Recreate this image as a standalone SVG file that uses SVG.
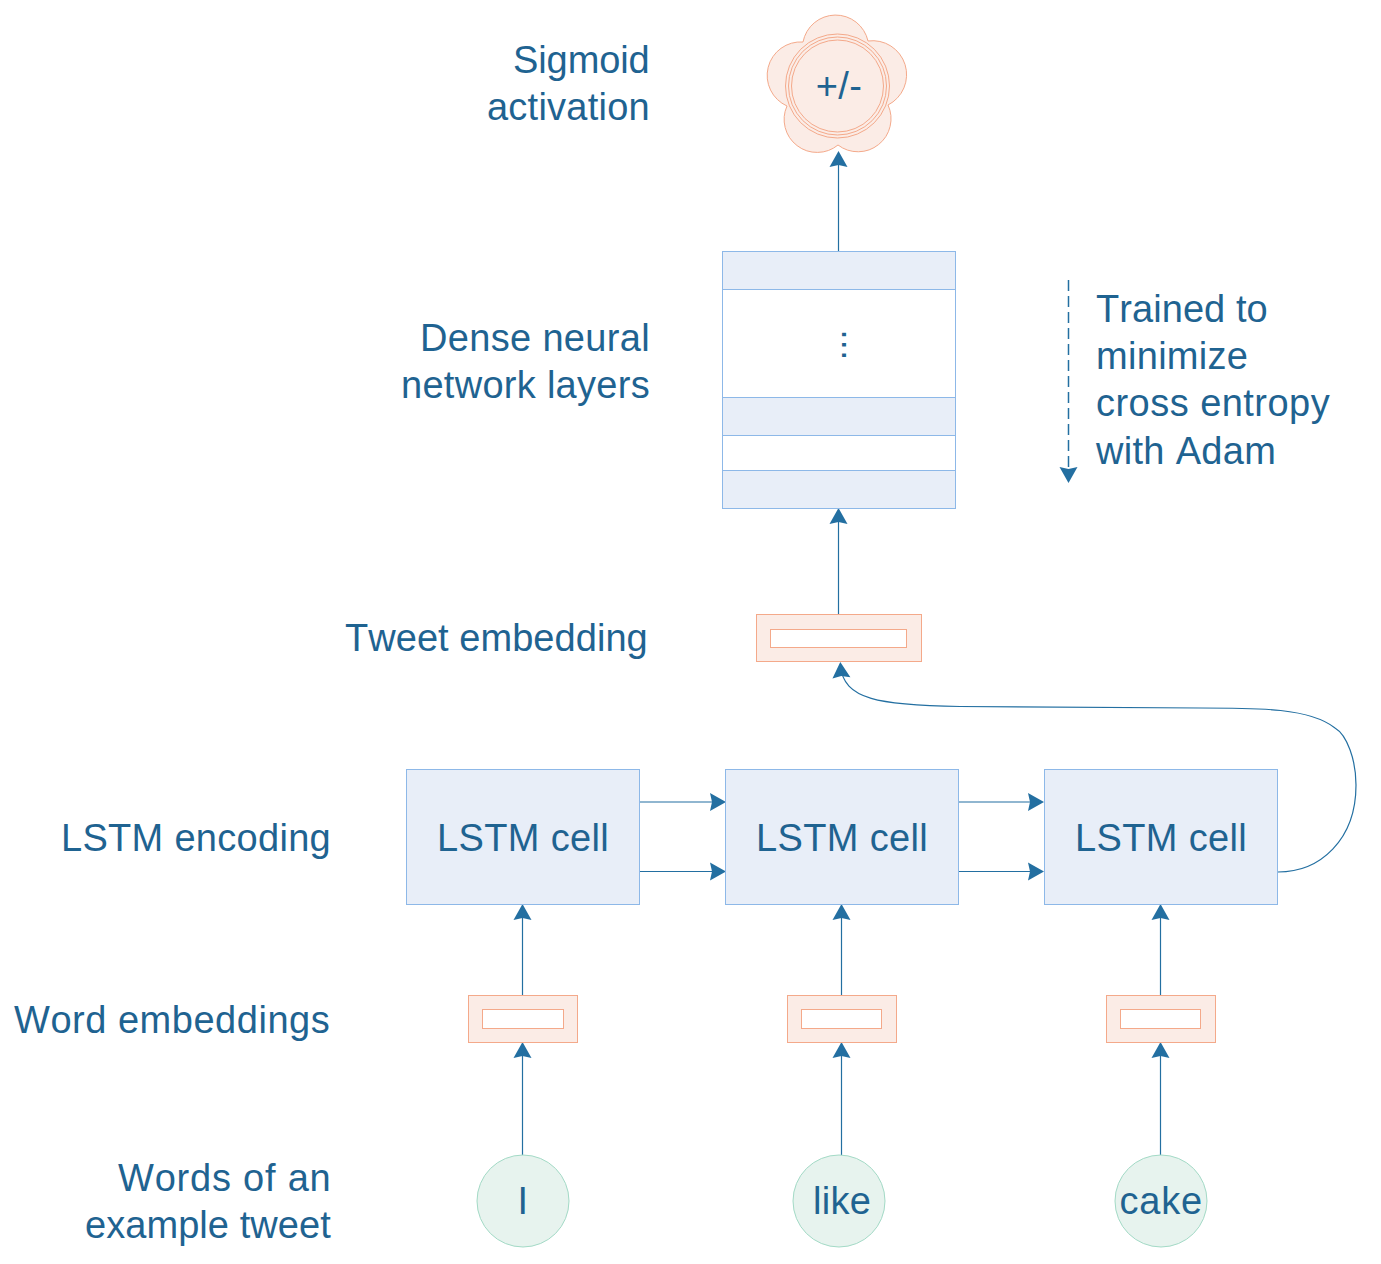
<svg xmlns="http://www.w3.org/2000/svg" width="1381" height="1264" viewBox="0 0 1381 1264">
<style>
text{font-family:"Liberation Sans",Arial,sans-serif;font-size:38px;fill:#1f6391;font-kerning:none;letter-spacing:.3px}
.e{text-anchor:end}.m{text-anchor:middle}
.b{fill:#e8eef8;stroke:#8db8e8;stroke-width:1}
.w{fill:#fff;stroke:#8db8e8;stroke-width:1}
.o{fill:#fbece6;stroke:#f4a98a;stroke-width:1}
.ow{fill:#fff;stroke:#f4a98a;stroke-width:1}
.g{fill:#e7f3ee;stroke:#a3dac6;stroke-width:1}
.r{fill:none;stroke:#f4a98a;stroke-width:1}
.c{fill:none;stroke:#236fa1;stroke-width:1.2;marker-end:url(#a)}
</style>
<defs><marker id="a" markerUnits="userSpaceOnUse" markerWidth="20" markerHeight="20" refX="15" refY="10" orient="auto"><path d="M2,1 L18,10 L2,19 L4,10 Z" fill="#236fa1"/></marker></defs>
<rect width="1381" height="1264" fill="#fff"/>
<g id="connectors">
<path class="c" d="M838.5,251V154"/>
<path class="c" d="M838.5,614V511"/>
<path class="c" d="M1278,872C1320,872 1356,840 1356,785C1356,760 1347,735 1335,728C1310,708 1260,708 1200,708L960,706.5C880,705 843,700 840.5,665"/>
<path class="c" d="M640,802H723"/><path class="c" d="M640,871.5H723"/>
<path class="c" d="M959,802H1041"/><path class="c" d="M959,871.5H1041"/>
<path class="c" d="M522.5,995V907"/><path class="c" d="M841.5,995V907"/><path class="c" d="M1160.5,995V907"/>
<path class="c" d="M522.5,1155V1045"/><path class="c" d="M841.5,1155V1045"/><path class="c" d="M1160.5,1155V1045"/>
<path class="c" d="M1068.5,280V480" stroke-dasharray="11 5" style="stroke-width:1.5"/>
</g>
<g id="sigmoid">
<path class="o" d="M803,42A33.2,33.2 0 0 1 868,41A34,34 0 0 1 888,105A33,33 0 0 1 838,145A33,33 0 0 1 787,106A33.5,33.5 0 0 1 803,42Z"/>
<circle class="r" cx="837.5" cy="86" r="52"/><circle class="r" cx="837.5" cy="86" r="49"/><circle class="o" cx="837.5" cy="86" r="46"/>
<text class="m" x="839" y="99">+/-</text>
</g>
<g id="dense">
<rect class="b" x="722.5" y="251.5" width="233" height="38"/>
<rect class="w" x="722.5" y="289.5" width="233" height="108"/>
<rect class="b" x="722.5" y="397.5" width="233" height="38"/>
<rect class="w" x="722.5" y="435.5" width="233" height="35"/>
<rect class="b" x="722.5" y="470.5" width="233" height="38"/>
<text class="m" transform="translate(841.5,345) rotate(90)" style="font-size:36px" letter-spacing="1.5">...</text>
</g>
<g id="tweet-embedding"><rect class="o" x="756.5" y="614.5" width="165" height="47"/><rect class="ow" x="770.5" y="629.5" width="136" height="18"/></g>
<g id="lstm1"><rect class="b" x="406.5" y="769.5" width="233" height="135"/><text class="m" x="523" y="851" textLength="172">LSTM cell</text></g>
<g id="lstm2"><rect class="b" x="725.5" y="769.5" width="233" height="135"/><text class="m" x="842" y="851" textLength="172">LSTM cell</text></g>
<g id="lstm3"><rect class="b" x="1044.5" y="769.5" width="233" height="135"/><text class="m" x="1161" y="851" textLength="172">LSTM cell</text></g>
<g id="emb1"><rect class="o" x="468.5" y="995.5" width="109" height="47"/><rect class="ow" x="482.5" y="1009.5" width="81" height="19"/></g>
<g id="emb2"><rect class="o" x="787.5" y="995.5" width="109" height="47"/><rect class="ow" x="801.5" y="1009.5" width="80" height="19"/></g>
<g id="emb3"><rect class="o" x="1106.5" y="995.5" width="109" height="47"/><rect class="ow" x="1120.5" y="1009.5" width="80" height="19"/></g>
<g id="word1"><circle class="g" cx="523" cy="1201" r="46"/><text class="m" x="523" y="1214">I</text></g>
<g id="word2"><circle class="g" cx="839" cy="1201" r="46"/><text class="m" x="842" y="1214">like</text></g>
<g id="word3"><circle class="g" cx="1161" cy="1201" r="46"/><text class="m" x="1161" y="1214" textLength="83">cake</text></g>
<g id="labels">
<text class="e" x="650" y="73" textLength="137">Sigmoid</text><text class="e" x="650" y="120" textLength="163">activation</text>
<text class="e" x="650" y="351" textLength="230">Dense neural</text><text class="e" x="650" y="398" textLength="249">network layers</text>
<text class="e" x="648" y="651" textLength="303">Tweet embedding</text>
<text class="e" x="331" y="851" textLength="270">LSTM encoding</text>
<text class="e" x="330" y="1033" textLength="316">Word embeddings</text>
<text class="e" x="331" y="1191" textLength="213">Words of an</text><text class="e" x="331" y="1238" textLength="246">example tweet</text>
<text x="1096" y="322" textLength="172">Trained to</text><text x="1096" y="369">minimize</text><text x="1096" y="416" textLength="234">cross entropy</text><text x="1096" y="464">with Adam</text>
</g>
</svg>
